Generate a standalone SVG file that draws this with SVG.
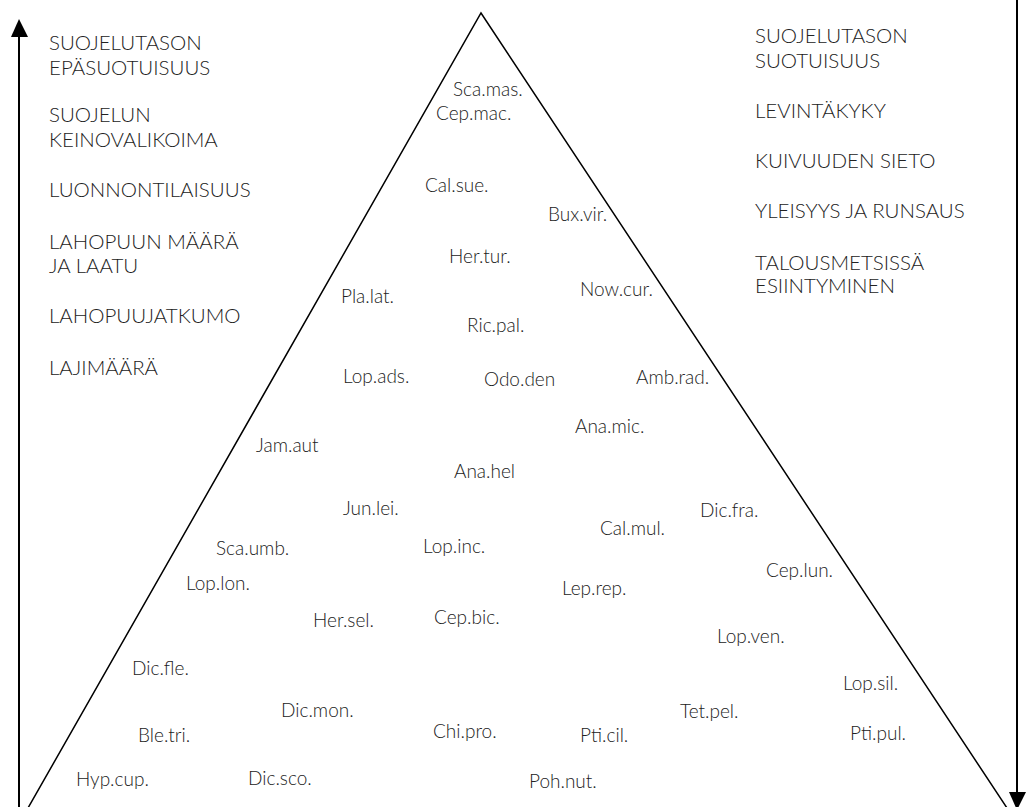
<svg xmlns="http://www.w3.org/2000/svg" width="1026" height="807" viewBox="0 0 1026 807">
<style>
text{font-family:Lato,"Open Sans","Liberation Sans",sans-serif;font-weight:300;font-size:19px;fill:#222}
.cap{font-size:20.5px}
.tri{fill:none;stroke:#000;stroke-width:1.5}
.ax{stroke:#000;stroke-width:2;fill:none}
</style>
<rect width="1026" height="807" fill="#fff"/>
<g id="connectors">
<polyline class="tri" points="28,808 481,13 1007,808"/>
<line class="ax" x1="19" y1="807" x2="19" y2="34"/>
<polygon points="19,19 11,37 28,37" fill="#000"/>
<line class="ax" x1="1017" y1="0" x2="1017" y2="795"/>
<polygon points="1009,792 1026,792 1017,810" fill="#000"/>
</g>
<g id="left-labels" class="cap">
<text class="cap" x="49" y="50">SUOJELUTASON</text>
<text class="cap" x="49" y="75">EPÄSUOTUISUUS</text>
<text class="cap" x="49" y="122">SUOJELUN</text>
<text class="cap" x="49" y="147">KEINOVALIKOIMA</text>
<text class="cap" x="49" y="197">LUONNONTILAISUUS</text>
<text class="cap" x="49" y="249">LAHOPUUN MÄÄRÄ</text>
<text class="cap" x="49" y="273">JA LAATU</text>
<text class="cap" x="49" y="323">LAHOPUUJATKUMO</text>
<text class="cap" x="49" y="375">LAJIMÄÄRÄ</text>
</g>
<g id="right-labels">
<text class="cap" x="755" y="43">SUOJELUTASON</text>
<text class="cap" x="755" y="68">SUOTUISUUS</text>
<text class="cap" x="755" y="118">LEVINTÄKYKY</text>
<text class="cap" x="755" y="168">KUIVUUDEN SIETO</text>
<text class="cap" x="755" y="218">YLEISYYS JA RUNSAUS</text>
<text class="cap" x="755" y="270">TALOUSMETSISSÄ</text>
<text class="cap" x="755" y="293">ESIINTYMINEN</text>
</g>
<g id="species">
<text x="453" y="96">Sca.mas.</text>
<text x="436" y="120">Cep.mac.</text>
<text x="425" y="192">Cal.sue.</text>
<text x="548" y="221">Bux.vir.</text>
<text x="449" y="263">Her.tur.</text>
<text x="341" y="303">Pla.lat.</text>
<text x="580" y="296">Now.cur.</text>
<text x="467" y="332">Ric.pal.</text>
<text x="343" y="383">Lop.ads.</text>
<text x="484" y="386">Odo.den</text>
<text x="636" y="384">Amb.rad.</text>
<text x="575" y="433">Ana.mic.</text>
<text x="256" y="452">Jam.aut</text>
<text x="454" y="478">Ana.hel</text>
<text x="343" y="515">Jun.lei.</text>
<text x="700" y="517">Dic.fra.</text>
<text x="600" y="535">Cal.mul.</text>
<text x="216" y="555">Sca.umb.</text>
<text x="423" y="553">Lop.inc.</text>
<text x="766" y="577">Cep.lun.</text>
<text x="186" y="590">Lop.lon.</text>
<text x="562" y="595">Lep.rep.</text>
<text x="313" y="627">Her.sel.</text>
<text x="434" y="624">Cep.bic.</text>
<text x="717" y="643">Lop.ven.</text>
<text x="132" y="675">Dic.fle.</text>
<text x="843" y="690">Lop.sil.</text>
<text x="281" y="717">Dic.mon.</text>
<text x="680" y="718">Tet.pel.</text>
<text x="138" y="742">Ble.tri.</text>
<text x="433" y="738">Chi.pro.</text>
<text x="580" y="742">Pti.cil.</text>
<text x="850" y="740">Pti.pul.</text>
<text x="76" y="786">Hyp.cup.</text>
<text x="248" y="785">Dic.sco.</text>
<text x="529" y="788">Poh.nut.</text>
</g>
</svg>
